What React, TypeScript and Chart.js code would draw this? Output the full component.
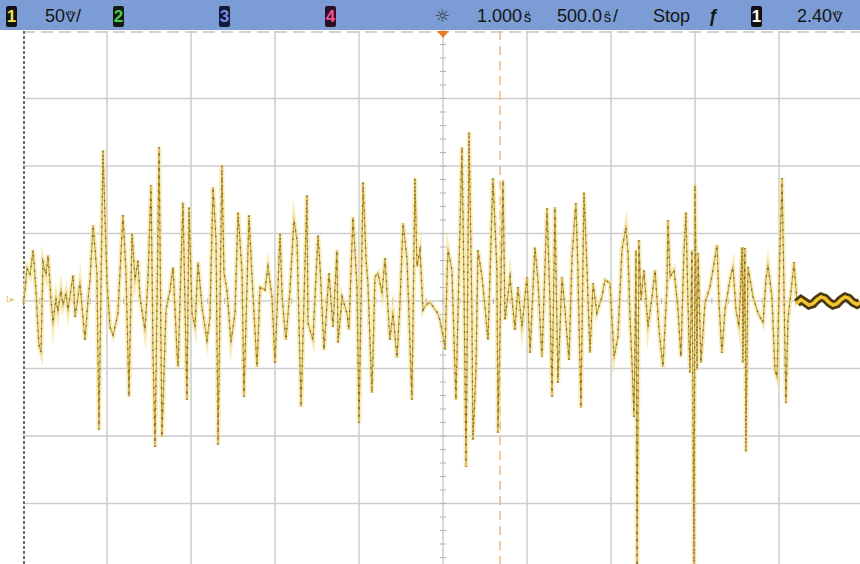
import React, { useEffect, useRef } from "react";
import { Chart, registerables } from "chart.js";

Chart.register(...registerables);

// ---- data (time in ns, channel 1 in mV) ----
const TIMES_NS = [
  -1500, -1488, -1476, -1458, -1440, -1423, -1405, -1393, -1381, -1363,
  -1351, -1333, -1321, -1304, -1292, -1274, -1262, -1244, -1232, -1220,
  -1202, -1190, -1161, -1131, -1113, -1101, -1083, -1060, -1048, -1024,
  -1000, -982, -964, -946, -935, -905, -887, -869, -851, -833,
  -816, -804, -774, -756, -738, -726, -714, -690, -673, -649,
  -625, -607, -583, -577, -548, -524, -512, -494, -476, -458,
  -435, -405, -387, -369, -351, -339, -316, -304, -286, -262,
  -238, -220, -196, -185, -155, -137, -107, -89, -60, -42,
  -18, 0, 30, 42, 65, 89, 113, 131, 155, 190,
  196, 226, 256, 268, 292, 321, 345, 369, 375, 399,
  428, 440, 464, 488, 500, 524, 542, 553, 577, 595,
  613, 637, 655, 672, 684, 702, 726, 744, 762, 786,
  815, 833, 845, 863, 881, 899, 922, 946, 964, 982,
  1000, 1012, 1024, 1030, 1053, 1077, 1095, 1113, 1125, 1137,
  1155, 1172, 1178, 1196, 1208, 1232, 1250, 1268, 1297, 1321,
  1327, 1357, 1369, 1399, 1428, 1446, 1470, 1500, 1518, 1547,
  1565, 1589, 1619, 1637, 1649, 1666, 1684, 1708, 1726, 1750,
  1768, 1791, 1803, 1821, 1839, 1857, 1875, 1893, 1916, 1946,
  1964, 1994, 2018, 2041, 2065, 2089, 2101, 2113, 2125, 2137,
  2149, 2155, 2166, 2178, 2196, 2220, 2244, 2262, 2286, 2309,
  2333, 2339, 2351, 2375, 2399, 2416, 2434, 2446, 2458, 2470,
  2482, 2494, 2500, 2512, 2518, 2535, 2559, 2589, 2607, 2631,
  2643, 2660, 2678, 2708, 2726, 2744, 2762, 2780, 2785, 2797,
  2803, 2815, 2845, 2875, 2905, 2922, 2934, 2958, 2976, 2988,
  3006, 3018, 3030, 3041, 3053, 3077, 3089, 3107, 3131, 3155,
  3178, 3202, 3226, 3250, 3274, 3297, 3321, 3345, 3369, 3393,
  3416, 3440, 3464, 3482,
];

const VOLTS_MV = [
  -3, 8.1, 24.4, 19.3, 37.8, 8.1, -32.6, -37.8, 28.9, 19.3,
  34.1, 0.7, -16.3, 2.2, -8.1, 8.1, -3, 5.9, -6.7, 3.7,
  19.3, -11.9, 13.3, -28.9, 0.7, 15.6, 56.3, 20.7, -95.6, 111.9,
  13.3, -19.3, -25.2, -15.6, -8.9, 63.7, 20.7, -71.1, 50.4, 15.6,
  30.4, 3, -21.5, 15.6, 85.9, -38.5, -108.1, 114.1, -100.7, -6.7,
  8.1, 25.2, -38.5, -48.9, 73.3, -73.3, 69.6, -8.9, -19.3, 28.9,
  -4.4, -28.9, -11.9, 84.4, 45.2, -106.7, 100.7, 20.7, 8.1, -30.4,
  -8.9, 65.9, 20.7, -71.1, 63.7, 17.8, -48.9, 10.4, 8.1, 25.2,
  3, -45.9, 50.4, 3, -28.9, 8.1, 60, 45.2, -78.5, 78.5,
  -16.3, -28.9, 48.9, 25.2, -36.3, 20.7, -19.3, 37.8, -31.1, 3,
  -8.9, -21.5, 62.2, 10.4, -90.4, 88.1, 30.4, 13.3, -68.1, 17.8,
  20.7, 5.9, 31.9, -4.4, -28.9, -8.9, -42.2, -1.5, 57.8, 30.4,
  -73.3, 91.1, 25.2, 37.8, -6.7, -3, -0.7, -5.2, -8.1, -14.1,
  -25.2, -36.3, 17.8, 37.8, 23, -73.3, 23, 114.1, 10.4, -123,
  125.2, -8.9, -103, -51.1, 37.8, 17.8, -4.4, -28.9, 91.1, 23,
  -97.8, 89.6, -14.1, 17.8, -21.5, 10.4, -19.3, 17.8, -38.5, 40,
  15.6, -41.5, 68.9, -1.5, -71.1, 69.6, -60.7, 17.8, -6.7, -43.7,
  32.6, 72.6, 23, -79.3, 80.7, 23, -38.5, 13.3, -8.9, 3,
  15.6, 13.3, -41.5, -26.7, 37.8, 54.8, 35.6, -11.9, -45.9, -85.9,
  37.8, -205, 45.2, 0.7, 23, -19.3, 3, 23, -21.5, -48.9,
  10.4, 60, 17.8, 23, -6.7, -41.5, 35.6, 65.9, -1.5, -53.3,
  37.8, -205, 85.9, -51.1, 35.6, -45.9, -1.5, 10.4, 23, 41.5,
  -1.5, -38.5, -6.7, 15.6, 25.2, -6.7, -19.3, 40, -45.9, 39.3,
  -111.8, 25.2, 3, -8.9, -16.3, 15.6, 26.7, 3, -51.1, -56.3,
  40, 91.1, 3, -75.6, -14.1, 13.3, 28.9, -1.5, 1, -1,
  -3, -2, 1, 3, 2, -1, -3, -2, 1, 3,
  2, -1, -2.5, -1,
];

const TAIL_START_NS = 3107; // settled part of the trace

// screen: 500 ns/div, 1.000 µs delay, 50 mV/div
const X_MIN_NS = -1500;
const X_MAX_NS = 3482;
const Y_MIN_MV = -194.8;
const Y_MAX_MV = 200;
const X_DIVS_NS = [-1000, -500, 0, 500, 1000, 1500, 2000, 2500, 3000];
const Y_DIVS_MV = [150, 100, 50, 0, -50, -100, -150];
const MINOR_X_NS = 100;
const MINOR_Y_MV = 10;
const DELAY_NS = 1000;
const CURSOR_NS = 1340;

const scopeGrid = {
  id: "scopeGrid",
  beforeDatasetsDraw(chart: any) {
    const { ctx, chartArea: a, scales } = chart;
    const x = scales.x;
    const y = scales.y;
    const line = (x1: number, y1: number, x2: number, y2: number) => {
      ctx.beginPath();
      ctx.moveTo(x1, y1);
      ctx.lineTo(x2, y2);
      ctx.stroke();
    };
    ctx.save();
    ctx.strokeStyle = "#cdcdcd";
    ctx.lineWidth = 1.5;
    for (const t of X_DIVS_NS) {
      const px = x.getPixelForValue(t);
      line(px, a.top, px, a.bottom);
    }
    for (const v of Y_DIVS_MV) {
      const py = y.getPixelForValue(v);
      line(a.left, py, a.right, py);
    }
    // top edge
    ctx.strokeStyle = "#c4c4c4";
    ctx.setLineDash([12, 6]);
    line(a.left, a.top + 1, a.right, a.top + 1);
    ctx.setLineDash([]);
    // minor ticks on center axes
    ctx.strokeStyle = "#b5b5b5";
    ctx.lineWidth = 1;
    const y0 = y.getPixelForValue(0);
    for (let t = X_MIN_NS; t <= X_MAX_NS; t += MINOR_X_NS) {
      const px = x.getPixelForValue(t);
      line(px, y0 - 3, px, y0 + 3);
    }
    const xc = x.getPixelForValue(DELAY_NS);
    for (let v = -190; v <= Y_MAX_MV; v += MINOR_Y_MV) {
      const py = y.getPixelForValue(v);
      line(xc - 3, py, xc + 3, py);
    }
    // left dashed border
    ctx.strokeStyle = "#6a6a6a";
    ctx.lineWidth = 2;
    ctx.setLineDash([3, 2]);
    const xl = x.getPixelForValue(X_MIN_NS) + 1;
    line(xl, a.top, xl, a.bottom);
    // cursor
    ctx.strokeStyle = "#f3b77e";
    ctx.lineWidth = 1.5;
    ctx.setLineDash([9, 6]);
    const xcur = x.getPixelForValue(CURSOR_NS);
    line(xcur, a.top, xcur, a.bottom);
    ctx.restore();
  },
  afterDatasetsDraw(chart: any) {
    const { ctx, chartArea: a, scales } = chart;
    const px = scales.x.getPixelForValue(DELAY_NS);
    ctx.save();
    ctx.fillStyle = "#f07c1e";
    ctx.beginPath();
    ctx.moveTo(px - 6, a.top);
    ctx.lineTo(px + 6, a.top);
    ctx.lineTo(px, a.top + 7);
    ctx.closePath();
    ctx.fill();
    ctx.restore();
  },
};

function Unit({ big, small }: { big: string; small: string }) {
  return (
    <span style={{ display: "inline-block", position: "relative", width: 11, textAlign: "center" }}>
      <span style={{ fontSize: 15 }}>{big}</span>
      <span style={{ position: "absolute", left: 0, right: 0, top: -3, fontSize: 7, textAlign: "center" }}>{small}</span>
    </span>
  );
}

function ChBox({ label, color, bg, left }: { label: string; color: string; bg: string; left: number }) {
  return (
    <div
      style={{
        position: "absolute",
        left,
        top: 6,
        width: 11,
        height: 21,
        background: bg,
        color,
        fontWeight: "bold",
        fontSize: 17,
        lineHeight: "21px",
        textAlign: "center",
        borderRadius: 2,
      }}
    >
      {label}
    </div>
  );
}

const txt = (left: number): React.CSSProperties => ({
  position: "absolute",
  left,
  top: 5,
  fontSize: 18,
  lineHeight: "22px",
  color: "#151515",
  whiteSpace: "nowrap",
});

export default function App() {
  const ref = useRef<HTMLCanvasElement>(null);

  useEffect(() => {
    const pts = TIMES_NS.map((t, i) => ({ x: t, y: VOLTS_MV[i] }));
    const tail = pts.filter((p) => p.x >= TAIL_START_NS);
    const chart = new Chart(ref.current!, {
      type: "line",
      data: {
        datasets: [
          { data: tail, borderColor: "#f4c62e", borderWidth: 3.5, pointRadius: 0, order: -2 },
          { data: tail, borderColor: "#4a3912", borderWidth: 9, pointRadius: 0, order: -1 },
          { data: pts, borderColor: "rgba(60,46,14,0.6)", borderWidth: 1.4, borderDash: [1.5, 6], pointRadius: 0, order: 0 },
          { data: pts, borderColor: "#c9a53e", borderWidth: 1.1, pointRadius: 0, order: 1 },
          { data: pts, borderColor: "rgba(242,226,150,0.65)", borderWidth: 4.5, pointRadius: 0, order: 2 },
        ],
      },
      options: {
        animation: false,
        responsive: false,
        layout: { padding: { left: 23, top: 31, right: 0, bottom: 0 } },
        elements: { line: { tension: 0 } },
        plugins: { legend: { display: false }, tooltip: { enabled: false } },
        scales: {
          x: { type: "linear", min: X_MIN_NS, max: X_MAX_NS, display: false },
          y: { type: "linear", min: Y_MIN_MV, max: Y_MAX_MV, display: false },
        },
      },
      plugins: [scopeGrid],
    });
    return () => chart.destroy();
  }, []);

  return (
    <div
      style={{
        position: "fixed",
        left: 0,
        top: 0,
        width: 860,
        height: 564,
        background: "#fff",
        overflow: "hidden",
        fontFamily: "'Liberation Sans', Arial, sans-serif",
      }}
    >
      <canvas ref={ref} width={860} height={564} style={{ position: "absolute", left: 0, top: 0 }} />
      <div style={{ position: "absolute", left: 0, top: 0, width: 860, height: 30, background: "#7b9cd4" }}>
        <ChBox label="1" color="#f3e24a" bg="#111" left={6} />
        <div style={txt(45)}>
          50<Unit big="V" small="m" />/
        </div>
        <ChBox label="2" color="#4ccf4c" bg="#151a15" left={113} />
        <ChBox label="3" color="#7b8fe0" bg="#141a3c" left={219} />
        <ChBox label="4" color="#f0509a" bg="#2a1020" left={325} />
        <div style={{ ...txt(435), fontFamily: "'DejaVu Sans', sans-serif", fontSize: 17, color: "#333" }}>☼</div>
        <div style={txt(477)}>
          1.000<Unit big="s" small="µ" />
        </div>
        <div style={txt(557)}>
          500.0<Unit big="s" small="n" />/
        </div>
        <div style={txt(653)}>Stop</div>
        <div style={{ ...txt(708), fontStyle: "italic", fontWeight: "bold" }}>ƒ</div>
        <ChBox label="1" color="#fff" bg="#111" left={751} />
        <div style={txt(797)}>
          2.40<Unit big="V" small="m" />
        </div>
      </div>
      <div style={{ position: "absolute", left: 5, top: 294, fontSize: 9, color: "#e4c96e" }}>1▸</div>
    </div>
  );
}
